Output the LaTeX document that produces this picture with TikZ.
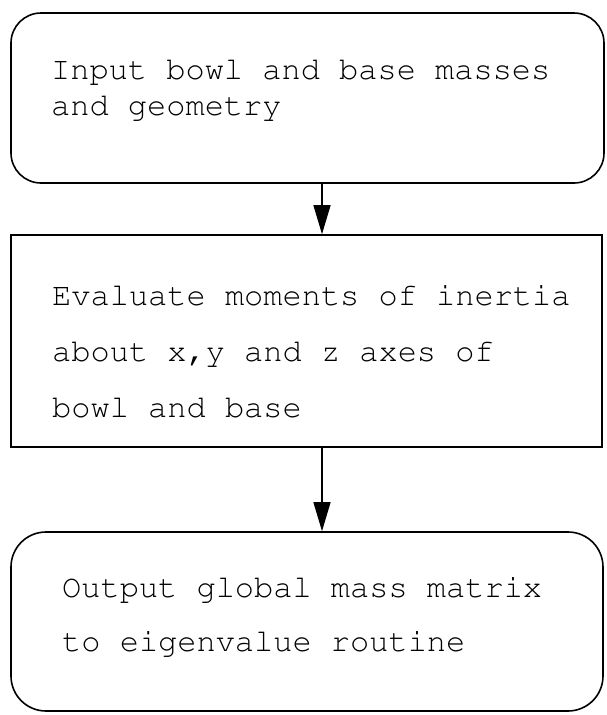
\documentclass[tikz,border=0pt]{standalone}
\usepackage[T1]{fontenc}
\usetikzlibrary{arrows.meta}
\begin{document}
\begin{tikzpicture}[x=1pt,y=1pt,
  boxline/.style={draw=black,line width=1.6pt,inner sep=0pt},
  txt/.style={anchor=base west,inner sep=0pt,font=\fontfamily{pcr}\fontsize{32}{32}\selectfont},
  conn/.style={draw=black,line width=1.3pt,-{Triangle[length=29pt,width=17pt]}}]
\useasboundingbox (0,0) rectangle (606,-715);
\node[boxline,rounded corners=30pt,minimum width=593pt,minimum height=170pt] (b1) at (307.5,-98) {};
\node[boxline,minimum width=591pt,minimum height=212pt] (b2) at (306.5,-341) {};
\node[boxline,rounded corners=35pt,minimum width=592pt,minimum height=179pt] (b3) at (307,-621.5) {};
\node[txt] (t1a) at (51,-79) {Input bowl and base masses};
\node[txt] (t1b) at (51,-115) {and geometry};
\node[txt] (t2a) at (52,-305) {Evaluate moments of inertia};
\node[txt] (t2b) at (52,-361) {about x,y and z axes of};
\node[txt] (t2c) at (52,-417) {bowl and base};
\node[txt] (t3a) at (62,-597) {Output global mass matrix};
\node[txt] (t3b) at (62,-651) {to eigenvalue routine};
\coordinate (ax) at (322,0);
\draw[conn] (b1.south -| ax) -- (b2.north -| ax);
\draw[conn] (b2.south -| ax) -- (b3.north -| ax);
\end{tikzpicture}
\end{document}
